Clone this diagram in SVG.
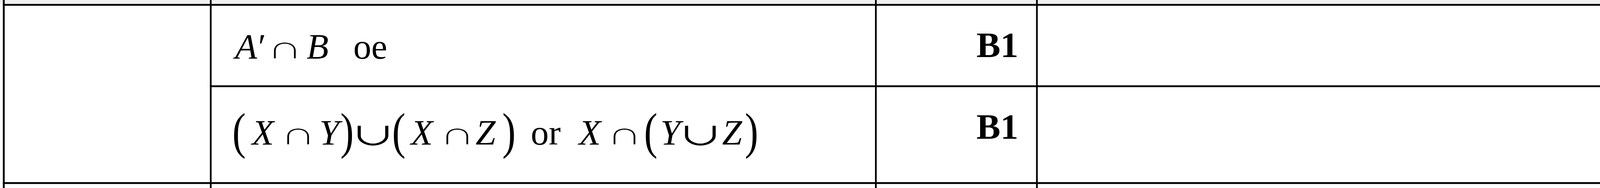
<svg xmlns="http://www.w3.org/2000/svg" width="4301" height="481" viewBox="0 0 4301 481">
<style>
.m{font-family:"Liberation Serif","DejaVu Serif",serif;font-size:92px;fill:#000;text-anchor:middle}
.i{font-style:italic}
.b{font-weight:bold;text-anchor:end}
.o{stroke:#fff;stroke-width:1.4px}
.p{font-family:"Liberation Serif","DejaVu Serif",serif;font-size:129px;fill:#000;text-anchor:middle}
.ln{fill:#000}
</style>
<rect x="0" y="0" width="4301" height="481" fill="#fff"/>
<rect x="0" y="0" width="4284" height="10" fill="#f0f0f0"/>
<g id="grid">
<rect class="ln" x="7.3" y="10" width="4281.4" height="4.7"/>
<rect class="ln" x="537.3" y="218.3" width="3751.4" height="4.7"/>
<rect class="ln" x="7.3" y="466" width="4281.4" height="4.7"/>
<rect class="ln" x="7.3" y="0" width="4.7" height="481"/>
<rect class="ln" x="537.3" y="0" width="4.4" height="481"/>
<rect class="ln" x="2240" y="0" width="4.4" height="481"/>
<rect class="ln" x="2652.3" y="0" width="4.4" height="481"/>
<rect class="ln" x="4284" y="0" width="4.7" height="481"/>
</g>
<g id="row1-expr">
<text class="m i" x="630" y="150">A</text>
<text class="m" x="671" y="150">′</text>
<text class="m o" transform="translate(729.5,150) scale(1.4,0.9)">∩</text>
<text class="m i" x="813" y="150">B</text>
<text class="m" x="948" y="150">oe</text>
</g>
<g id="row1-mark">
<text class="m b" x="2607" y="146">B1</text>
</g>
<g id="row2-expr">
<text class="p" transform="translate(612,379) scale(0.8,1)">(</text>
<text class="m i" x="673" y="370">X</text>
<text class="m o" transform="translate(763.5,370) scale(1.4,0.9)">∩</text>
<text class="m i" x="843" y="370">Y</text>
<text class="p" transform="translate(888.5,379) scale(0.8,1)">)</text>
<text class="m o" transform="translate(955,372) scale(1.4,0.9)">∪</text>
<text class="p" transform="translate(1021,379) scale(0.8,1)">(</text>
<text class="m i" x="1080" y="370">X</text>
<text class="m o" transform="translate(1171,370) scale(1.4,0.9)">∩</text>
<text class="m i" x="1243" y="370">Z</text>
<text class="p" transform="translate(1303,379) scale(0.8,1)">)</text>
<text class="m" x="1397" y="370">or</text>
<text class="m i" x="1510" y="370">X</text>
<text class="m o" transform="translate(1599,370) scale(1.4,0.9)">∩</text>
<text class="p" transform="translate(1666,379) scale(0.8,1)">(</text>
<text class="m i" x="1716" y="370">Y</text>
<text class="m o" transform="translate(1793,372) scale(1.4,0.9)">∪</text>
<text class="m i" x="1874" y="370">Z</text>
<text class="p" transform="translate(1924,379) scale(0.8,1)">)</text>
</g>
<g id="row2-mark">
<text class="m b" x="2607" y="355">B1</text>
</g>
</svg>
